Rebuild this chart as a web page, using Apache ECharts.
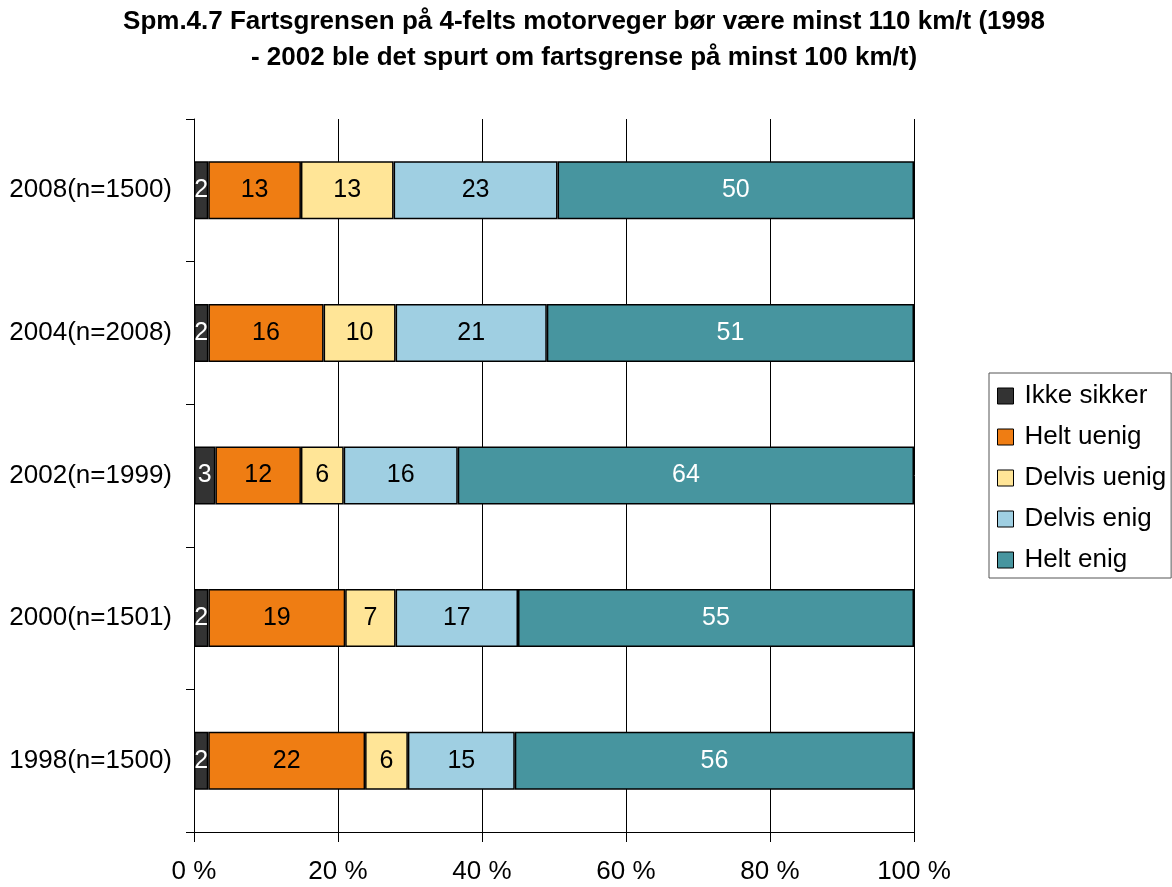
<!DOCTYPE html>
<html>
<head>
<meta charset="utf-8">
<script src="https://cdn.jsdelivr.net/npm/echarts@6/dist/echarts.min.js"></script>
<style>
  html, body { margin: 0; padding: 0; background: #fff; }
  #chart { width: 1172px; height: 887px; }
</style>
</head>
<body>
<div id="chart"></div>
<script>
// Spørsmål 4.7 – svarfordeling per år (verdier i prosent, slik de står i søylene)
const years = ["2008(n=1500)", "2004(n=2008)", "2002(n=1999)", "2000(n=1501)", "1998(n=1500)"];
const ikkeSikker = [2, 2, 3, 2, 2];
const heltUenig = [13, 16, 12, 19, 22];
const delvisUenig = [13, 10, 6, 7, 6];
const delvisEnig = [23, 21, 16, 17, 15];
const heltEnig = [50, 51, 64, 55, 56];
const xTicks = [0, 20, 40, 60, 80, 100];

const fontFamily = "'Liberation Sans', Arial, sans-serif";
const groups = [
  { name: "Ikke sikker", data: ikkeSikker, color: "#333333", text: "#ffffff" },
  { name: "Helt uenig", data: heltUenig, color: "#ef7d13", text: "#000000" },
  { name: "Delvis uenig", data: delvisUenig, color: "#ffe597", text: "#000000" },
  { name: "Delvis enig", data: delvisEnig, color: "#9fcfe2", text: "#000000" },
  { name: "Helt enig", data: heltEnig, color: "#47959f", text: "#ffffff" },
];

// summen per rad – søylene er 100 % stablet
const totals = years.map((y, i) => groups.reduce((s, g) => s + g.data[i], 0));

const chart = echarts.init(document.getElementById("chart"));

chart.setOption({
  animation: false,
  title: {
    text: "Spm.4.7 Fartsgrensen på 4-felts motorveger bør være minst 110 km/t (1998\n- 2002 ble det spurt om fartsgrense på minst 100 km/t)",
    left: 584,
    top: 4,
    padding: 0,
    textAlign: "center",
    textStyle: {
      fontFamily: fontFamily,
      fontWeight: "bold",
      fontSize: 26,
      lineHeight: 36,
      color: "#000",
    },
  },
  legend: {
    orient: "vertical",
    left: 989,
    top: 373,
    padding: [10, 5, 5, 8],
    itemWidth: 16,
    itemHeight: 16,
    itemGap: 15,
    backgroundColor: "#fff",
    borderColor: "#555",
    borderWidth: 1,
    borderRadius: 0,
    icon: "rect",
    textStyle: {
      fontFamily: fontFamily,
      fontSize: 26,
      lineHeight: 24,
      color: "#000",
      padding: [0, 0, 0, 6],
    },
    itemStyle: { borderColor: "#000", borderWidth: 1 },
    data: groups.map((g) => g.name),
  },
  grid: {
    left: 194,
    right: 258,
    top: 119,
    bottom: 55,
  },
  xAxis: {
    type: "value",
    min: 0,
    max: 100,
    interval: 20,
    axisLine: { show: true, lineStyle: { color: "#000", width: 1 } },
    axisTick: { show: true, length: 10, lineStyle: { color: "#000" } },
    splitLine: { show: true, lineStyle: { color: "#000", width: 1 } },
    axisLabel: {
      margin: 27,
      fontFamily: fontFamily,
      fontSize: 26,
      color: "#000",
      formatter: (v) => (xTicks.indexOf(v) >= 0 ? v + " %" : ""),
    },
  },
  yAxis: {
    type: "category",
    inverse: true,
    data: years,
    axisLine: { show: true, lineStyle: { color: "#000", width: 1 } },
    axisTick: { show: true, length: 8, lineStyle: { color: "#000" } },
    axisLabel: {
      margin: 22,
      fontFamily: fontFamily,
      fontSize: 26,
      color: "#000",
    },
  },
  series: groups.map((g) => ({
    name: g.name,
    type: "bar",
    stack: "total",
    barWidth: 58,
    itemStyle: { color: g.color, borderColor: "#000", borderWidth: 1.5 },
    label: {
      show: true,
      position: "inside",
      fontFamily: fontFamily,
      fontSize: 25,
      color: g.text,
      formatter: (p) => String(g.data[p.dataIndex]),
    },
    emphasis: { disabled: true },
    data: g.data.map((v, i) => (v / totals[i]) * 100),
  })),
});
</script>
</body>
</html>
